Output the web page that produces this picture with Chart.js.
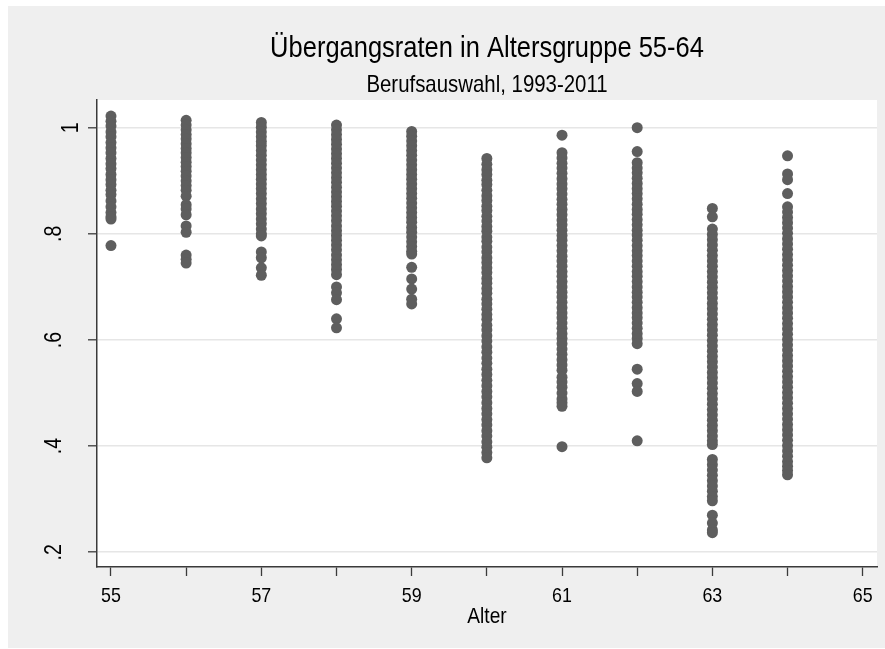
<!DOCTYPE html>
<html>
<head>
<meta charset="utf-8">
<script src="https://cdn.jsdelivr.net/npm/chart.js@4.4.1/dist/chart.umd.min.js"></script>
<style>
html,body{margin:0;padding:0;background:#ffffff;}
#wrap{width:885px;height:649px;position:relative;}
</style>
</head>
<body>
<div id="wrap"><canvas id="c" width="885" height="649"></canvas></div>
<script>
// ---- text ----
const titleText = 'Übergangsraten in Altersgruppe 55-64';
const subtitleText = 'Berufsauswahl, 1993-2011';
const xAxisTitle = 'Alter';

// ---- categories ----
const ages = [55, 56, 57, 58, 59, 60, 61, 62, 63, 64];

// ---- series values (transition rates, per age) ----
const rate55 = [1.022, 1.012, 1.003, 0.992, 0.983, 0.972, 0.962, 0.953, 0.942, 0.932, 0.923, 0.912, 0.902, 0.893, 0.882, 0.874, 0.862, 0.851, 0.840, 0.832, 0.828, 0.778];
const rate56 = [1.014, 1.005, 0.996, 0.987, 0.979, 0.970, 0.961, 0.953, 0.944, 0.935, 0.927, 0.918, 0.909, 0.900, 0.891, 0.882, 0.871, 0.855, 0.847, 0.836, 0.815, 0.803, 0.760, 0.752, 0.745];
const rate57 = [1.010, 1.001, 0.992, 0.983, 0.974, 0.966, 0.957, 0.948, 0.939, 0.930, 0.921, 0.912, 0.903, 0.894, 0.885, 0.876, 0.866, 0.857, 0.847, 0.838, 0.828, 0.819, 0.809, 0.800, 0.796, 0.766, 0.755, 0.736, 0.722];
const rate58 = [1.005, 0.996, 0.987, 0.978, 0.969, 0.960, 0.951, 0.942, 0.933, 0.924, 0.915, 0.906, 0.897, 0.888, 0.879, 0.870, 0.861, 0.852, 0.843, 0.834, 0.825, 0.815, 0.806, 0.797, 0.788, 0.779, 0.770, 0.760, 0.751, 0.742, 0.733, 0.723, 0.700, 0.689, 0.676, 0.640, 0.623];
const rate59 = [0.993, 0.984, 0.975, 0.966, 0.957, 0.948, 0.939, 0.930, 0.921, 0.912, 0.903, 0.894, 0.885, 0.876, 0.867, 0.858, 0.849, 0.840, 0.831, 0.822, 0.812, 0.803, 0.794, 0.785, 0.776, 0.767, 0.762, 0.737, 0.715, 0.696, 0.677, 0.668];
const rate60 = [0.942, 0.931, 0.921, 0.912, 0.901, 0.893, 0.882, 0.872, 0.863, 0.852, 0.844, 0.833, 0.824, 0.814, 0.805, 0.794, 0.786, 0.775, 0.766, 0.755, 0.746, 0.736, 0.727, 0.716, 0.707, 0.697, 0.688, 0.677, 0.668, 0.658, 0.648, 0.639, 0.628, 0.619, 0.608, 0.598, 0.587, 0.577, 0.566, 0.556, 0.545, 0.535, 0.524, 0.514, 0.503, 0.493, 0.482, 0.471, 0.461, 0.450, 0.440, 0.429, 0.419, 0.408, 0.398, 0.388, 0.378];
const rate61 = [0.986, 0.953, 0.943, 0.933, 0.924, 0.914, 0.904, 0.894, 0.885, 0.875, 0.865, 0.856, 0.846, 0.836, 0.826, 0.817, 0.807, 0.797, 0.788, 0.778, 0.768, 0.758, 0.749, 0.739, 0.729, 0.720, 0.710, 0.700, 0.690, 0.681, 0.671, 0.661, 0.651, 0.642, 0.632, 0.622, 0.612, 0.603, 0.593, 0.583, 0.573, 0.563, 0.553, 0.543, 0.530, 0.521, 0.511, 0.500, 0.489, 0.482, 0.475, 0.399];
const rate62 = [1.000, 0.955, 0.934, 0.924, 0.915, 0.905, 0.895, 0.885, 0.876, 0.866, 0.856, 0.846, 0.837, 0.827, 0.817, 0.807, 0.798, 0.788, 0.778, 0.768, 0.759, 0.749, 0.739, 0.729, 0.720, 0.710, 0.700, 0.690, 0.681, 0.671, 0.661, 0.651, 0.642, 0.632, 0.622, 0.612, 0.603, 0.593, 0.545, 0.518, 0.503, 0.410];
const rate63 = [0.848, 0.832, 0.809, 0.799, 0.789, 0.779, 0.769, 0.759, 0.749, 0.739, 0.729, 0.719, 0.709, 0.699, 0.689, 0.679, 0.669, 0.659, 0.649, 0.639, 0.629, 0.619, 0.609, 0.599, 0.589, 0.579, 0.569, 0.559, 0.549, 0.539, 0.529, 0.519, 0.509, 0.499, 0.489, 0.479, 0.469, 0.459, 0.449, 0.439, 0.429, 0.419, 0.410, 0.403, 0.375, 0.365, 0.355, 0.345, 0.335, 0.325, 0.315, 0.305, 0.297, 0.270, 0.255, 0.242, 0.237];
const rate64 = [0.947, 0.913, 0.902, 0.876, 0.851, 0.841, 0.831, 0.821, 0.811, 0.801, 0.791, 0.781, 0.771, 0.761, 0.751, 0.741, 0.731, 0.721, 0.711, 0.701, 0.691, 0.681, 0.671, 0.661, 0.651, 0.641, 0.631, 0.621, 0.611, 0.601, 0.591, 0.581, 0.571, 0.561, 0.551, 0.541, 0.531, 0.521, 0.511, 0.501, 0.491, 0.481, 0.471, 0.461, 0.451, 0.441, 0.431, 0.421, 0.411, 0.401, 0.391, 0.381, 0.371, 0.362, 0.354, 0.346];

// ---- tick labels ----
const xTickValues = [55, 56, 57, 58, 59, 60, 61, 62, 63, 64, 65];
const xTickLabels = ['55', '', '57', '', '59', '', '61', '', '63', '', '65'];
const yTickValues = [0.2, 0.4, 0.6, 0.8, 1];
const yTickLabels = ['.2', '.4', '.6', '.8', '1'];

// ---- build dataset ----
const seriesByAge = [rate55, rate56, rate57, rate58, rate59, rate60, rate61, rate62, rate63, rate64];
const points = [];
ages.forEach((a, i) => seriesByAge[i].forEach(v => points.push({ x: a, y: v })));

const FONT = "'Liberation Sans', Arial, sans-serif";
const NARROW = 0.85;           // horizontal condensing (narrow sans look)
const OUTER_BG = '#efefef';
const DOT = '#5e5e5e';

function narrowText(ctx, text, x, y, size, rotate) {
  ctx.save();
  ctx.translate(x, y);
  if (rotate) ctx.rotate(-Math.PI / 2);
  ctx.scale(NARROW, 1);
  ctx.font = size + 'px ' + FONT;
  ctx.fillStyle = '#000000';
  ctx.textAlign = 'center';
  ctx.textBaseline = 'alphabetic';
  ctx.fillText(text, 0, 0);
  ctx.restore();
}

const bgPlugin = {
  id: 'bg',
  beforeDraw(chart) {
    const { ctx, chartArea: a, width, height } = chart;
    ctx.save();
    ctx.fillStyle = '#ffffff';
    ctx.fillRect(0, 0, width, height);
    ctx.fillStyle = OUTER_BG;
    ctx.fillRect(8, 6, width - 8, height - 7);
    ctx.fillStyle = '#ffffff';
    ctx.fillRect(a.left, a.top, a.right - a.left, a.bottom - a.top);
    ctx.restore();
  }
};

const textPlugin = {
  id: 'stataText',
  afterDraw(chart) {
    const { ctx, chartArea: a } = chart;
    const xs = chart.scales.x, ys = chart.scales.y;
    const cx = (a.left + a.right) / 2;
    // titles
    narrowText(ctx, titleText, cx, a.top - 43.3, 30, false);
    narrowText(ctx, subtitleText, cx, a.top - 8.3, 24, false);
    // x tick labels
    xTickValues.forEach((v, i) => {
      if (xTickLabels[i]) narrowText(ctx, xTickLabels[i], xs.getPixelForValue(v), a.bottom + 35, 21, false);
    });
    // x axis title
    narrowText(ctx, xAxisTitle, cx, a.bottom + 56, 22.5, false);
    // y tick labels (vertical, reading upwards)
    yTickValues.forEach((v, i) => {
      const label = yTickLabels[i];
      const bx = label.length === 1 ? 78 : 60.5;
      narrowText(ctx, label, bx, ys.getPixelForValue(v), 23, true);
    });
  }
};

new Chart(document.getElementById('c'), {
  type: 'scatter',
  data: {
    datasets: [{
      label: 'Übergangsrate',
      data: points,
      backgroundColor: DOT,
      borderColor: DOT,
      borderWidth: 0,
      pointRadius: 5.5,
      pointHoverRadius: 5.5
    }]
  },
  options: {
    responsive: false,
    devicePixelRatio: 1,
    animation: false,
    events: [],
    layout: { padding: { left: 0, right: 8, top: 100, bottom: 0 } },
    plugins: {
      legend: { display: false },
      tooltip: { enabled: false },
      title: { display: false },
      subtitle: { display: false }
    },
    scales: {
      x: {
        type: 'linear',
        min: 54.814,
        max: 65.19,
        afterBuildTicks: s => { s.ticks = xTickValues.map(v => ({ value: v })); },
        afterFit: s => { s.height = 82; },
        ticks: { display: false },
        grid: {
          drawOnChartArea: false,
          drawTicks: true,
          tickLength: 9,
          tickColor: '#3a3a3a',
          tickWidth: 1.3
        },
        border: { display: true, color: '#3a3a3a', width: 1.5 }
      },
      y: {
        type: 'linear',
        min: 0.1723,
        max: 1.0522,
        afterBuildTicks: s => { s.ticks = yTickValues.map(v => ({ value: v })); },
        afterFit: s => { s.width = 97; },
        ticks: { display: false },
        grid: {
          drawOnChartArea: true,
          drawTicks: true,
          tickLength: 9,
          color: '#e6e6e6',
          lineWidth: 1.6,
          tickColor: '#3a3a3a',
          tickWidth: 1.3
        },
        border: { display: true, color: '#3a3a3a', width: 1.5 }
      }
    }
  },
  plugins: [bgPlugin, textPlugin]
});
</script>
</body>
</html>
